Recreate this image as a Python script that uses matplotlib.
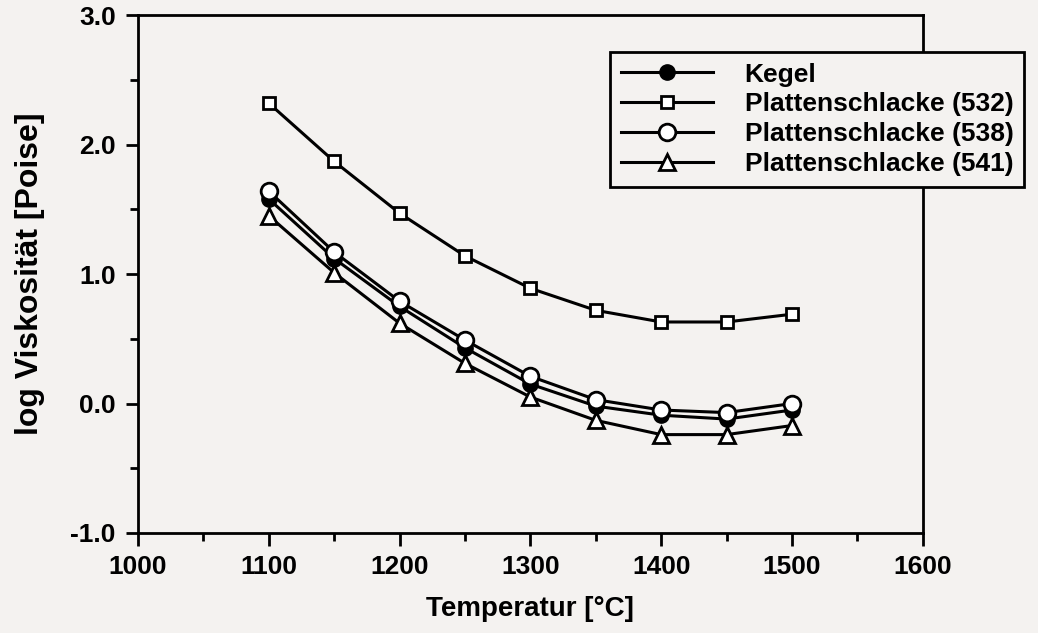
# log Viskositaet vs Temperatur

import matplotlib.pyplot as plt
from matplotlib.ticker import MultipleLocator

plt.rcParams['font.family'] = ['Liberation Sans', 'DejaVu Sans']
plt.rcParams['font.weight'] = 'bold'

# Data
temp = [1100, 1150, 1200, 1250, 1300, 1350, 1400, 1450, 1500]
kegel = [1.58, 1.12, 0.75, 0.43, 0.15, -0.02, -0.09, -0.12, -0.05]
ps532 = [2.32, 1.87, 1.47, 1.14, 0.89, 0.72, 0.63, 0.63, 0.69]
ps538 = [1.64, 1.17, 0.79, 0.49, 0.21, 0.03, -0.05, -0.07, 0.00]
ps541 = [1.45, 1.01, 0.62, 0.31, 0.05, -0.13, -0.24, -0.24, -0.17]

bg = '#f4f2f0'
fig = plt.figure(figsize=(10.38, 6.33), dpi=100, facecolor=bg)
ax = fig.add_axes([0.133, 0.158, 0.756, 0.818], facecolor=bg)

ax.plot(temp, kegel, '-', color='black', lw=2.2, marker='o', ms=11,
        mfc='black', mec='black', label='Kegel', zorder=3)
ax.plot(temp, ps532, '-', color='black', lw=2.2, marker='s', ms=9,
        mfc='white', mec='black', mew=2, label='Plattenschlacke (532)', zorder=3)
ax.plot(temp, ps538, '-', color='black', lw=2.2, marker='o', ms=12,
        mfc='white', mec='black', mew=2, label='Plattenschlacke (538)', zorder=4)
ax.plot(temp, ps541, '-', color='black', lw=2.2, marker='^', ms=11,
        mfc='white', mec='black', mew=2, label='Plattenschlacke (541)', zorder=3)

ax.set_xlim(1000, 1600)
ax.set_ylim(-1.0, 3.0)
ax.xaxis.set_major_locator(MultipleLocator(100))
ax.xaxis.set_minor_locator(MultipleLocator(50))
ax.yaxis.set_major_locator(MultipleLocator(1.0))
ax.yaxis.set_minor_locator(MultipleLocator(0.5))
ax.yaxis.set_major_formatter(plt.FuncFormatter(lambda v, p: f'{v:.1f}'))
ax.tick_params(which='both', direction='out', width=2, labelsize=19)
ax.tick_params(which='major', length=9, pad=7)
ax.tick_params(which='minor', length=6)
for s in ax.spines.values():
    s.set_linewidth(2)

ax.set_xlabel('Temperatur [°C]', fontsize=20, fontweight='bold', labelpad=12)
ax.set_ylabel('log Viskosität [Poise]', fontsize=23, fontweight='bold', labelpad=18)

leg = ax.legend(loc='upper left', bbox_to_anchor=(610 / 1038, 1 - 52 / 633),
                bbox_transform=fig.transFigure, frameon=True,
                fancybox=False, edgecolor='black', handlelength=3.5,
                borderpad=0.4, labelspacing=0.22, handletextpad=1.2,
                borderaxespad=0, prop={'weight': 'bold', 'size': 19})
leg.get_frame().set_linewidth(2)
leg.get_frame().set_facecolor(bg)
leg.get_frame().set_alpha(1)

fig.savefig('out.png', dpi=100, facecolor=bg)
